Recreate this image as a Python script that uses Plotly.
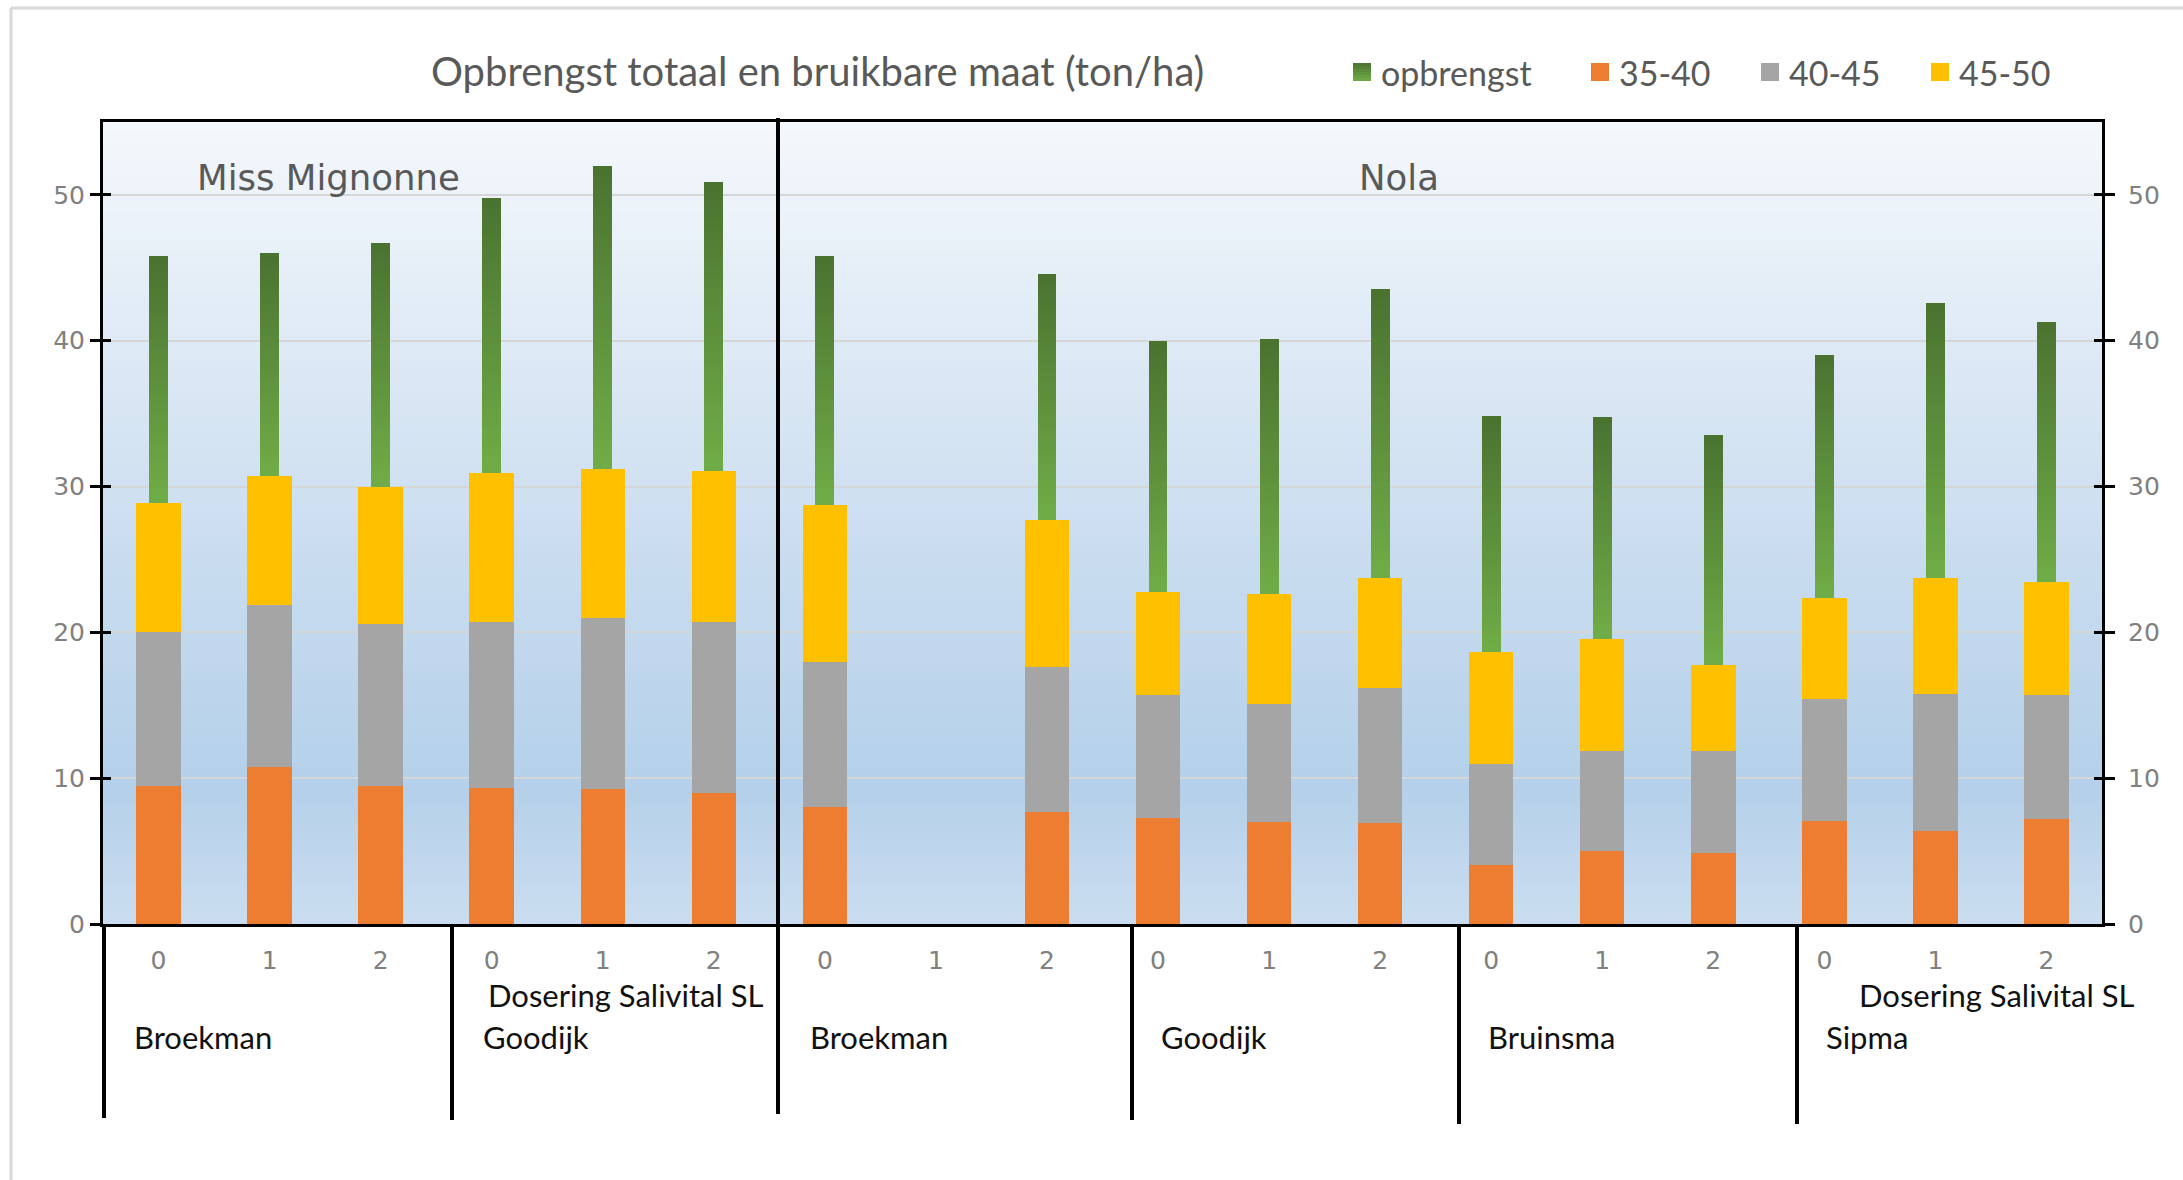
import plotly.graph_objects as go

# ---- data -------------------------------------------------------------
varieties = ["Miss Mignonne", "Nola"]
growers = ["Broekman", "Goodijk", "Broekman", "Goodijk", "Bruinsma", "Sipma"]
dose_labels = ["0", "1", "2"] * 6
axis_title = "Dosering Salivital SL"

# size class yields (ton/ha), one value per plot; None = no harvest
maat_35_40 = [9.45, 10.8, 9.45, 9.35, 9.25, 8.95,
              8.0, None, 7.65, 7.3, 7.0, 6.9,
              4.05, 5.0, 4.9, 7.05, 6.4, 7.2]
maat_40_45 = [10.6, 11.1, 11.15, 11.35, 11.75, 11.75,
              9.95, None, 10.0, 8.4, 8.1, 9.3,
              6.95, 6.85, 6.95, 8.4, 9.4, 8.5]
maat_45_50 = [8.8, 8.8, 9.4, 10.2, 10.2, 10.4,
              10.8, None, 10.05, 7.05, 7.5, 7.5,
              7.65, 7.7, 5.9, 6.9, 7.9, 7.75]
opbrengst = [45.8, 46.0, 46.7, 49.8, 52.0, 50.9,
             45.8, None, 44.6, 40.0, 40.1, 43.55,
             34.85, 34.75, 33.55, 39.05, 42.6, 41.3]

y_ticks = [0, 10, 20, 30, 40, 50]

# ---- styling ----------------------------------------------------------
W, H = 2183, 1180
L, R, T, B = 103, 2102, 122, 924          # plot area in page pixels
C_ORANGE, C_GRAY, C_YELLOW = "#ed7d31", "#a5a5a5", "#ffc000"
G_TOP, G_BOT = (74, 114, 48), (112, 173, 71)
TXT = "#595959"
TICK = "#808080"
CAL = "Lato, 'Open Sans', sans-serif"
TICKFONT = "'DejaVu Sans', sans-serif"


def px(x):
    return (x - L) / (R - L)


def py(y):
    return (B - y) / (B - T)


def mix(c1, c2, t):
    return "rgb(%d,%d,%d)" % tuple(round(a + (b - a) * t) for a, b in zip(c1, c2))


idx = list(range(len(dose_labels)))


def add(a, b):
    return [None if (u is None or v is None) else u + v for u, v in zip(a, b)]


base_grey = maat_35_40
base_yellow = add(maat_35_40, maat_40_45)
stack_top = add(base_yellow, maat_45_50)

fig = go.Figure()

# size classes, stacked from zero on the primary axis
for vals, bse, col, name, ax in [(maat_35_40, [0] * len(idx), C_ORANGE, "35-40", "y"),
                                 (maat_40_45, base_grey, C_GRAY, "40-45", "y3"),
                                 (maat_45_50, base_yellow, C_YELLOW, "45-50", "y4")]:
    fig.add_trace(go.Bar(
        x=idx, y=vals, base=bse, width=0.4, name=name, yaxis=ax,
        marker=dict(color=col, line=dict(width=0)),
        showlegend=False))

# total yield above the sorted fractions (secondary axis), vertical gradient
N = 30
rest = [None if (t is None or s is None) else t - s for t, s in zip(opbrengst, stack_top)]
for k in range(N):
    seg = [None if r is None else r / N for r in rest]
    bse = [None if (s is None) else s + r * k / N for s, r in zip(stack_top, rest)]
    fig.add_trace(go.Bar(
        x=idx, y=seg, base=bse, width=0.17, yaxis="y2",
        marker=dict(color=mix(G_BOT, G_TOP, (k + 0.5) / N), line=dict(width=0)),
        showlegend=False, hoverinfo="skip"))

# ---- background gradient of the plot area ------------------------------
shapes = []
stops = [(0.0, (203, 222, 240)), (0.17, (180, 208, 234)), (0.45, (200, 220, 239)),
         (1.0, (245, 248, 252))]


def bg_col(f):
    for (f0, c0), (f1, c1) in zip(stops[:-1], stops[1:]):
        if f0 <= f <= f1:
            return mix(c0, c1, (f - f0) / (f1 - f0))
    return mix(stops[-1][1], stops[-1][1], 0)


NB = 80
for i in range(NB):
    shapes.append(dict(type="rect", xref="x domain", yref="y domain",
                       x0=0, x1=1, y0=i / NB, y1=(i + 1) / NB + 0.002,
                       fillcolor=bg_col((i + 0.5) / NB), line=dict(width=0),
                       layer="below"))

# outer chart frame
shapes.append(dict(type="line", xref="paper", yref="paper",
                   x0=px(11), x1=px(W + 5), y0=py(8), y1=py(8),
                   line=dict(color="#d9d9d9", width=3)))
shapes.append(dict(type="line", xref="paper", yref="paper",
                   x0=px(11), x1=px(11), y0=py(8), y1=py(H + 5),
                   line=dict(color="#d9d9d9", width=3)))

# separators of the grouped category axis
for x0, y0, y1 in [(104, 924, 1118), (452, 926, 1120), (778, 118, 1114),
                   (1132, 926, 1120), (1459, 926, 1124), (1797, 926, 1124)]:
    shapes.append(dict(type="line", xref="paper", yref="paper",
                       x0=px(x0), x1=px(x0), y0=py(y0), y1=py(y1),
                       line=dict(color="black", width=4)))

# ---- legend (drawn manually) -------------------------------------------
ann = []
leg = [("opbrengst", None, 1353), ("35-40", C_ORANGE, 1591),
       ("40-45", C_GRAY, 1761), ("45-50", C_YELLOW, 1931)]
for label, col, x0 in leg:
    if col is None:
        for k in range(6):
            shapes.append(dict(type="rect", xref="paper", yref="paper",
                               x0=px(x0), x1=px(x0 + 18),
                               y0=py(63 + k * 3), y1=py(63 + (k + 1) * 3),
                               fillcolor=mix(G_TOP, G_BOT, (k + 0.5) / 6),
                               line=dict(width=0)))
    else:
        shapes.append(dict(type="rect", xref="paper", yref="paper",
                           x0=px(x0), x1=px(x0 + 18), y0=py(63), y1=py(81),
                           fillcolor=col, line=dict(width=0)))
    ann.append(dict(text=label, xref="paper", yref="paper", x=px(x0 + 26), y=py(72),
                    xanchor="left", yanchor="middle", showarrow=False,
                    font=dict(family=CAL, size=34, color=TXT)))

ann.append(dict(text="Opbrengst totaal en bruikbare maat (ton/ha)", xref="paper", yref="paper",
                x=px(817), y=py(71), xanchor="center", yanchor="middle", showarrow=False,
                font=dict(family=CAL, size=40, color=TXT)))

ann.append(dict(text=varieties[0], xref="paper", yref="paper", x=px(195), y=py(177),
                xanchor="left", yanchor="middle", showarrow=False,
                font=dict(family=TICKFONT, size=35.5, color=TXT)))
ann.append(dict(text=varieties[1], xref="paper", yref="paper", x=px(1399), y=py(177),
                xanchor="center", yanchor="middle", showarrow=False,
                font=dict(family=TICKFONT, size=35.5, color=TXT)))

for name, x0 in zip(growers, [132, 481, 808, 1159, 1486, 1824]):
    ann.append(dict(text=name, xref="paper", yref="paper", x=px(x0), y=py(1037),
                    xanchor="left", yanchor="middle", showarrow=False,
                    font=dict(family=CAL, size=31, color="#111111")))
for x0 in [486, 1857]:
    ann.append(dict(text=axis_title, xref="paper", yref="paper", x=px(x0), y=py(995),
                    xanchor="left", yanchor="middle", showarrow=False,
                    font=dict(family=CAL, size=31, color="#111111")))

# ---- axes ---------------------------------------------------------------
yax = dict(range=[0, 55], tickvals=y_ticks, zeroline=False, fixedrange=True)

fig.update_layout(
    width=W, height=H,
    margin=dict(l=L, r=W - R, t=T, b=H - B),
    paper_bgcolor="white", plot_bgcolor="#c8dcef",
    barmode="overlay", bargap=0,
    shapes=shapes, annotations=ann,
    xaxis=dict(range=[-0.5, 17.5], tickvals=idx, ticktext=dose_labels,
               showgrid=False, zeroline=False, ticks="",
               showline=True, linecolor="black", linewidth=3, mirror=True,
               tickfont=dict(family=TICKFONT, size=25, color=TICK),
               ticklabelstandoff=12),
    yaxis=dict(**yax, side="left", showgrid=True, gridcolor="#d6d6d6", gridwidth=2,
               showline=True, linecolor="black", linewidth=3,
               ticks="outside", ticklen=10, tickwidth=3, tickcolor="black",
               tickfont=dict(family=TICKFONT, size=25, color=TICK)),
    yaxis2=dict(**yax, side="right", overlaying="y", anchor="x", showgrid=False,
                showline=True, linecolor="black", linewidth=3,
                ticks="outside", ticklen=10, tickwidth=3, tickcolor="black",
                tickfont=dict(family=TICKFONT, size=25, color=TICK),
                ticklabelstandoff=8),
    yaxis3=dict(**yax, side="left", overlaying="y", anchor="x", showgrid=False,
                showline=False, ticks="inside", ticklen=8, tickwidth=3,
                tickcolor="black", showticklabels=False),
    yaxis4=dict(**yax, side="right", overlaying="y", anchor="x", showgrid=False,
                showline=False, ticks="inside", ticklen=8, tickwidth=3,
                tickcolor="black", showticklabels=False),
)

fig.write_html("out.html")
